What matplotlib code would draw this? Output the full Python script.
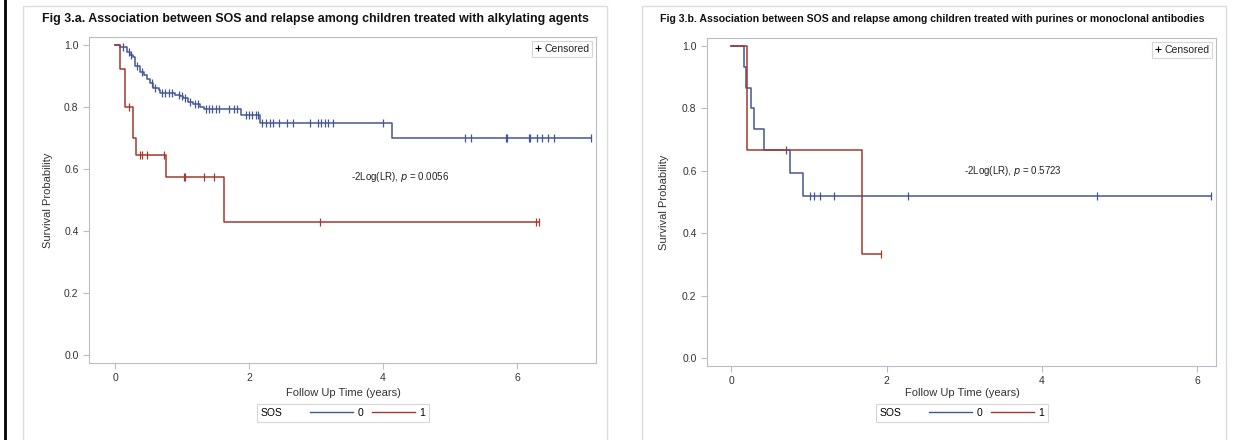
import matplotlib
matplotlib.use('Agg')
import matplotlib.pyplot as plt
from matplotlib.lines import Line2D
from matplotlib.patches import Rectangle
from matplotlib.offsetbox import HPacker

plt.rcParams['font.family'] = ['Liberation Sans', 'DejaVu Sans']

BLUE = '#445694'
RED = '#A23A2E'
GREY = '#b8bec2'

# Fig 3.a - alkylating agents
a0_t = [0, 0.07, 0.17, 0.22, 0.26, 0.30, 0.37, 0.43, 0.47, 0.52, 0.57, 0.65, 0.67,
        0.90, 0.97, 1.02, 1.09, 1.17, 1.27, 1.32, 1.88, 2.16, 4.13]
a0_s = [1.0, 0.995, 0.978, 0.968, 0.963, 0.932, 0.914, 0.903, 0.889, 0.876, 0.863, 0.855, 0.846,
        0.839, 0.834, 0.828, 0.817, 0.81, 0.80, 0.795, 0.774, 0.749, 0.699]
a0_end = 7.10
a0_cens = [0.12, 0.2, 0.24, 0.33, 0.40, 0.55, 0.60, 0.70, 0.75, 0.80, 0.85, 0.95, 1.0, 1.05, 1.12,
           1.20, 1.24, 1.36, 1.40, 1.45, 1.50, 1.55, 1.70, 1.78, 1.82,
           1.95, 2.0, 2.05, 2.10, 2.14,
           2.20, 2.26, 2.31, 2.36, 2.44, 2.56, 2.66, 2.91, 3.03, 3.08, 3.13, 3.18, 3.25, 4.0,
           5.22, 5.32, 5.83, 5.85, 6.18, 6.20, 6.30, 6.38, 6.47, 6.55, 7.10]

a1_t = [0, 0.075, 0.15, 0.27, 0.31, 0.76, 1.63]
a1_s = [1.0, 0.923, 0.80, 0.70, 0.645, 0.573, 0.43]
a1_end = 6.33
a1_cens = [0.2, 0.37, 0.40, 0.48, 0.73, 1.03, 1.05, 1.32, 1.47, 3.06, 6.28, 6.33]

# Fig 3.b - purines or monoclonal antibodies
b0_t = [0, 0.16, 0.19, 0.26, 0.29, 0.42, 0.76, 0.93]
b0_s = [1.0, 0.933, 0.867, 0.80, 0.733, 0.667, 0.593, 0.519]
b0_end = 6.17
b0_cens = [0.71, 1.02, 1.07, 1.15, 1.33, 2.28, 4.71, 6.17]

b1_t = [0, 0.21, 1.68]
b1_s = [1.0, 0.667, 0.333]
b1_end = 1.93
b1_cens = [1.93]

titles = ['Fig 3.a. Association between SOS and relapse among children treated with alkylating agents',
          'Fig 3.b. Association between SOS and relapse among children treated with purines or monoclonal antibodies']
pvals = ['-2Log(LR), $p$ = 0.0056', '-2Log(LR), $p$ = 0.5723']


def surv_at(times, surv, t):
    s = surv[0]
    for ti, si in zip(times, surv):
        if ti <= t:
            s = si
    return s


def km(ax, times, surv, end, cens, color):
    ax.step(list(times) + [end], list(surv) + [surv[-1]], where='post', color=color, lw=1.1)
    ax.plot(cens, [surv_at(times, surv, c) for c in cens], ls='none', marker='|',
            ms=6, mew=0.9, color=color)


W, H = 1252, 440
fig = plt.figure(figsize=(W / 100, H / 100), dpi=100)

# page border and panel frames
fig.add_artist(Line2D([5 / W, 5 / W], [0, 1], color='black', lw=2))
for x0 in [23, 642]:
    fig.add_artist(Rectangle((x0 / W, -0.1), 584 / W, (434 / H) + 0.1, fill=False,
                             ec='#dcdcdc', lw=1))

panels = [
    dict(box=(89, 37, 596, 363), xlim=(-0.39, 7.18), data=[(a0_t, a0_s, a0_end, a0_cens, BLUE),
                                                        (a1_t, a1_s, a1_end, a1_cens, RED)],
         ptxt=(3.52, 0.575), title_x=42, title_fs=8.9, ylab_x=53, center=343),
    dict(box=(707, 38, 1216, 366), xlim=(-0.31, 6.24), data=[(b0_t, b0_s, b0_end, b0_cens, BLUE),
                                                          (b1_t, b1_s, b1_end, b1_cens, RED)],
         ptxt=(3.0, 0.598), title_x=660, title_fs=7.6, ylab_x=669, center=962),
]

for i, p in enumerate(panels):
    l, t, r, b = p['box']
    ax = fig.add_axes([l / W, (H - b) / H, (r - l) / W, (b - t) / H])
    for d in p['data']:
        km(ax, *d)
    ax.set_xlim(*p['xlim'])
    ax.set_ylim(-0.026, 1.026)
    ax.set_xticks([0, 2, 4, 6])
    ax.set_yticks([0.0, 0.2, 0.4, 0.6, 0.8, 1.0])
    ax.set_yticklabels([f'{v:.1f}' for v in [0.0, 0.2, 0.4, 0.6, 0.8, 1.0]])
    for s in ax.spines.values():
        s.set_color(GREY)
    ax.tick_params(colors=GREY, labelcolor='#333333', labelsize=7.5, length=4, width=0.8)
    ax.text(p['ptxt'][0], p['ptxt'][1], pvals[i], fontsize=7, color='#222222', va='center')
    ax.set_ylabel('Survival Probability', fontsize=8, color='#333333')
    ax.yaxis.set_label_coords((p['ylab_x'] - l) / (r - l), 0.5)
    fig.text(p['center'] / W, 1 - 393 / H, 'Follow Up Time (years)', fontsize=8,
             color='#333333', ha='center', va='center')
    cleg = ax.legend([Line2D([], [], ls='none', marker='+', color='black', ms=5, mew=0.8)],
                     ['Censored'], loc='upper right', fontsize=7.5, frameon=True, fancybox=False,
                     handlelength=0.6, handletextpad=0.3, borderpad=0.3, borderaxespad=0.35)
    cleg.get_frame().set_edgecolor('#cccccc')
    cleg.get_frame().set_linewidth(0.8)
    for txt in cleg.get_texts():
        txt.set_color('#222222')

    fig.text(p['title_x'] / W, 1 - 19 / H, titles[i], fontsize=p['title_fs'], fontweight='bold',
             color='#111111', va='center')

    sleg = fig.legend([Line2D([], [], color=BLUE, lw=1), Line2D([], [], color=RED, lw=1)],
                      ['0', '1'], title='SOS', ncol=2, loc='center',
                      bbox_to_anchor=(p['center'] / W, 1 - 413 / H), fontsize=7.5,
                      title_fontsize=7.5, frameon=True, fancybox=False, handlelength=4.1,
                      handletextpad=0.4, columnspacing=0.9, borderpad=0.35)
    sleg.get_frame().set_edgecolor('#cccccc')
    sleg.get_frame().set_linewidth(0.8)
    box = sleg._legend_box
    box._children = [HPacker(pad=0, sep=20, align='center', children=list(box.get_children()))]
    box.set_figure(fig)

fig.savefig('out.png', dpi=100)
